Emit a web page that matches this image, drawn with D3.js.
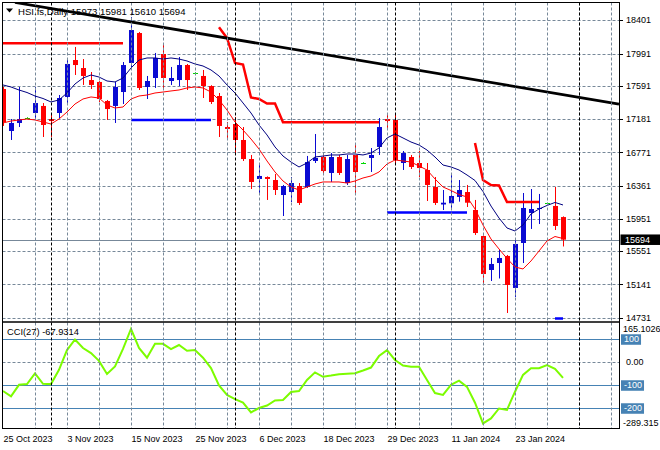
<!DOCTYPE html>
<html><head><meta charset="utf-8">
<script src="https://cdn.jsdelivr.net/npm/d3@7"></script>
<style>
body{margin:0;background:#fff}
svg{display:block}
text{font-family:"Liberation Sans",Arial,sans-serif;font-size:9px;fill:#000}
</style>
</head><body>
<svg id="c" width="660" height="450"></svg>
<script>
// ---------------- DATA ----------------
const titleText = "HSI.fs,Daily 15973 15981 15610 15694";
const opens  = [17553,17035,17134,17195,17257,17344,17183,17257,17455,17911,17812,17664,17640,17405,17344,17516,17874,18244,17578,17689,17985,17652,17664,17849,17751,17714,17590,17467,17084,17121,16924,16689,16443,16467,16430,16245,16282,16356,16344,16665,16714,16517,16714,16393,16739,16640,16702,16838,17183,17171,16640,16714,16640,16554,16344,16128,16143,16221,16282,16060,15739,15320,15406,15493,15098,15653,16023,16072,16143,16110,15973];
const highs  = [17578,17183,17578,17205,17578,17380,17257,17479,17911,18072,17923,17763,17650,17418,17640,17886,18442,18257,17714,17998,18109,17825,17948,17862,17761,17788,17600,17504,17146,17208,17084,16739,16640,16475,16504,16369,16467,16393,16727,16998,16751,16763,16739,16739,16875,16650,16825,17195,17232,17257,16788,16739,16788,16640,16467,16307,16492,16430,16369,16184,15745,15468,15567,15505,15690,16270,16319,16258,16150,16344,15981];
const lows   = [17097,16924,17084,17185,17195,16961,16961,17195,17380,17726,17603,17553,17393,17171,17134,17368,17800,17541,17430,17566,17566,17603,17590,17541,17741,17442,17368,16961,16924,16739,16665,16319,16270,16184,16245,15986,16159,16122,16332,16640,16492,16406,16492,16369,16270,16630,16529,16739,17047,16640,16554,16566,16467,16171,16122,16060,16085,16163,16097,15752,15159,15184,15215,14789,14987,15406,15826,15887,16135,15813,15610];
const closes = [17146,17134,17183,17195,17380,17109,17158,17442,17862,17849,17714,17603,17430,17306,17578,17849,18281,17566,17652,17936,17689,17689,17849,17664,17751,17590,17393,17097,17060,16924,16689,16406,16480,16443,16307,16356,16393,16147,16652,16702,16541,16714,16517,16689,16529,16640,16739,17084,17158,16677,16763,16591,16578,16369,16147,16150,16233,16307,16150,15776,15270,15394,15468,15135,15641,16085,16072,16085,16143,15863,15694];
// navy moving average
const maNavy = [17603,17578,17541,17510,17467,17436,17393,17418,17504,17615,17689,17726,17701,17652,17640,17689,17812,17911,17936,17936,17923,17936,17923,17899,17862,17837,17788,17714,17603,17504,17381,17257,17109,16986,16838,16726,16652,16591,16640,16714,16726,16739,16739,16751,16751,16739,16763,16825,16949,16998,16949,16899,16862,16800,16714,16615,16591,16554,16492,16424,16288,16109,15961,15838,15801,15875,16011,16072,16116,16153,16122];
// red moving average
const maRed = [17134,17158,17171,17183,17171,17146,17121,17183,17269,17368,17430,17455,17442,17356,17319,17331,17430,17467,17479,17504,17516,17529,17541,17566,17578,17566,17516,17418,17294,17146,17047,16936,16813,16665,16529,16418,16344,16307,16344,16381,16406,16406,16406,16393,16418,16455,16480,16529,16628,16677,16665,16652,16603,16554,16443,16344,16301,16251,16221,16073,15875,15702,15579,15462,15357,15332,15431,15554,15678,15733,15708];
// stepped resistance (red) and support (blue) levels, null = no value
const resistance = [18117,18117,18117,18117,18117,18117,18117,18117,18117,18117,18117,18117,18117,18117,18117,18117,
  null,null,null,null,null,null,null,null,null,null,null,
  18315,18183,17874,17856,17448,17430,17374,17374,17142,17142,17142,17142,17142,17142,17142,17142,17142,17142,17142,17142,17142,
  null,null,null,null,null,null,null,null,null,null,null,
  16887,16430,16369,16362,16159,16159,16159,16159,16159,
  null,null,null];
const support = [null,null,null,null,null,null,null,null,null,null,null,null,null,null,null,null,
  17171,17171,17171,17171,17171,17171,17171,17171,17171,17171,17171,
  null,null,null,null,null,null,null,null,null,null,null,null,null,null,null,null,null,null,null,null,null,
  16029,16029,16029,16029,16029,16029,16029,16029,16029,16029,16029,
  null,null,null,null,null,null,null,null,null,null,
  14721,14721];
const cciValues = [-125,-148,-98,-95,-48,-94,-95,-33,53,99,62,40,6,-51,-18,58,145,62,20,80,80,57,75,50,53,20,-25,-101,-142,-160,-175,-218,-199,-188,-166,-164,-129,-125,-77,-44,-63,-58,-52,-50,-48,-36,-23,27,53,10,-14,-19,-19,-77,-134,-142,-98,-80,-107,-176,-266,-244,-201,-207,-128,-55,-26,-26,-12,-29,-67.93];
const cciLabel = "CCI(27) -67.9314";
const trendBars = [1.5, 77];
const trendPrices = [18621, 17368];
const priceTicks = [18401,17991,17591,17181,16771,16361,15951,15551,15141,14731];
const lastPrice = 15694;
const cciMax = 165.1026, cciMin = -289.315;
const cciLevels = [100, -100, -200];
const cciLevelLabels = ["100", "-100", "-200"];
const dateBars = [0,8,16,24,32,40,48,56,64];
const dateLabels = ["25 Oct 2023","3 Nov 2023","15 Nov 2023","25 Nov 2023","6 Dec 2023","18 Dec 2023","29 Dec 2023","11 Jan 2024","23 Jan 2024"];
const gridBars = [4,8,12,16,20,24,28,32,36,40,44,48,52,56,60,64,68,72,76];
const separatorBars = [6,29,49,72];

// ---------------- LAYOUT ----------------
const plotL = 2.5, plotR = 619.5, mainT = 2.5, mainB = 322, cciT = 322, cciB = 428.5;
const x = d3.scaleLinear().domain([0, 77]).range([3, 619]);
const y = d3.scaleLinear().domain([14731, 18401]).range([317.7, 20.3]);
const yc = d3.scaleLinear().domain([cciMin, cciMax]).range([428.8, 324.3]);
const BULL = "#0a0ad2", BEAR = "#ff0000", DOJI = "#00d800", GRID = "#778899";

const svg = d3.select("#c");
const defs = svg.append("defs");
defs.append("clipPath").attr("id","cm").append("rect")
  .attr("x",plotL).attr("y",mainT).attr("width",plotR-plotL).attr("height",mainB-mainT);
defs.append("clipPath").attr("id","cc").append("rect")
  .attr("x",plotL).attr("y",cciT).attr("width",plotR-plotL).attr("height",cciB-cciT);

const gMain = svg.append("g").attr("clip-path","url(#cm)");
const gCci = svg.append("g").attr("clip-path","url(#cc)");

// horizontal grid (main)
gMain.selectAll("line.hg").data(priceTicks).join("line")
  .attr("x1",plotL).attr("x2",plotR)
  .attr("y1",d=>Math.round(y(d))+0.5).attr("y2",d=>Math.round(y(d))+0.5)
  .attr("stroke",GRID).attr("stroke-dasharray","3,2");
// vertical grid
svg.selectAll("line.vg").data(gridBars).join("line")
  .attr("x1",d=>x(d)+0.5).attr("x2",d=>x(d)+0.5)
  .attr("y1",mainT).attr("y2",cciB)
  .attr("stroke",GRID).attr("stroke-dasharray","3,2");
// CCI zero grid
gCci.append("line").attr("x1",plotL).attr("x2",plotR)
  .attr("y1",Math.round(yc(0))+0.5).attr("y2",Math.round(yc(0))+0.5)
  .attr("stroke",GRID).attr("stroke-dasharray","3,2");
// CCI level lines
gCci.selectAll("line.lv").data(cciLevels).join("line")
  .attr("x1",plotL).attr("x2",plotR)
  .attr("y1",d=>Math.round(yc(d))+0.5).attr("y2",d=>Math.round(yc(d))+0.5)
  .attr("stroke","#4682b4");
// period separators
svg.selectAll("line.sep").data(separatorBars).join("line")
  .attr("x1",d=>x(d)+0.5).attr("x2",d=>x(d)+0.5)
  .attr("y1",mainT).attr("y2",cciB)
  .attr("stroke","#000").attr("stroke-dasharray","3,2");
// last price line
gMain.append("line").attr("x1",plotL).attr("x2",plotR)
  .attr("y1",Math.round(y(lastPrice))+0.5).attr("y2",Math.round(y(lastPrice))+0.5)
  .attr("stroke",GRID);

// candles
const bars = d3.range(opens.length).map(i=>({i,o:opens[i],h:highs[i],l:lows[i],c:closes[i]}));
const col = d => d.c > d.o ? BULL : (d.c < d.o ? BEAR : DOJI);
const gc = gMain.append("g");
gc.selectAll("line.wick").data(bars).join("line")
  .attr("x1",d=>x(d.i)+0.5).attr("x2",d=>x(d.i)+0.5)
  .attr("y1",d=>y(d.h)).attr("y2",d=>y(d.l))
  .attr("stroke",col).attr("stroke-width",1);
gc.selectAll("rect.body").data(bars.filter(d=>d.o!==d.c)).join("rect")
  .attr("x",d=>x(d.i)-2).attr("width",5)
  .attr("y",d=>Math.min(y(d.o),y(d.c)))
  .attr("height",d=>Math.max(1,Math.abs(y(d.o)-y(d.c))))
  .attr("fill",col);
gc.selectAll("line.doji").data(bars.filter(d=>d.o===d.c)).join("line")
  .attr("x1",d=>x(d.i)-2).attr("x2",d=>x(d.i)+3)
  .attr("y1",d=>Math.round(y(d.o))+0.5).attr("y2",d=>Math.round(y(d.o))+0.5)
  .attr("stroke",DOJI);

// moving averages
const lineP = d3.line().defined(d=>d!=null).x((d,i)=>x(i)).y(d=>y(d));
gMain.append("path").attr("d",lineP(maNavy)).attr("fill","none").attr("stroke","#000080").attr("stroke-width",1);
gMain.append("path").attr("d",lineP(maRed)).attr("fill","none").attr("stroke","#ff0000").attr("stroke-width",1);
// resistance / support
gMain.append("path").attr("d",lineP(resistance)).attr("fill","none").attr("stroke","#ff0000").attr("stroke-width",2.5);
gMain.append("path").attr("d",lineP(support)).attr("fill","none").attr("stroke","#0000ff").attr("stroke-width",2.5);
// trend line
gMain.append("line")
  .attr("x1",x(trendBars[0])).attr("y1",y(trendPrices[0]))
  .attr("x2",x(trendBars[1])).attr("y2",y(trendPrices[1]))
  .attr("stroke","#000").attr("stroke-width",2.8);

// CCI line
const lineC = d3.line().x((d,i)=>x(i)).y(d=>yc(d));
gCci.append("path").attr("d",lineC(cciValues)).attr("fill","none").attr("stroke","#7cfc00").attr("stroke-width",2);

// frames
svg.append("rect").attr("x",plotL).attr("y",mainT).attr("width",plotR-plotL).attr("height",mainB-mainT)
  .attr("fill","none").attr("stroke","#000");
svg.append("rect").attr("x",plotL).attr("y",cciT).attr("width",plotR-plotL).attr("height",cciB-cciT)
  .attr("fill","none").attr("stroke","#000");

// price axis
svg.selectAll("line.pt").data(priceTicks).join("line")
  .attr("x1",plotR).attr("x2",plotR+3.5)
  .attr("y1",d=>Math.round(y(d))+0.5).attr("y2",d=>Math.round(y(d))+0.5).attr("stroke","#000");
svg.selectAll("text.pl").data(priceTicks).join("text")
  .attr("x",626).attr("y",d=>y(d)).attr("dy","0.35em").text(d=>d);
// last price box
const ly = y(lastPrice);
svg.append("rect").attr("x",620.5).attr("y",ly-5.2).attr("width",40).attr("height",10.5).attr("fill","#000");
svg.append("text").attr("x",625).attr("y",ly).attr("dy","0.35em").style("fill","#fff").text(lastPrice);

// CCI axis labels
svg.append("text").attr("x",623).attr("y",yc(cciMax)+5).attr("dy","0.35em").text(cciMax.toFixed(4));
svg.append("text").attr("x",623).attr("y",yc(cciMin)-6).attr("dy","0.35em").text(cciMin.toFixed(3));
svg.append("text").attr("x",626).attr("y",yc(0)).attr("dy","0.35em").text("0.00");
cciLevels.forEach((lv,k)=>{
  const t = svg.append("text").attr("x",624).attr("y",yc(lv)).attr("dy","0.35em").style("fill","#fff").text(cciLevelLabels[k]);
  const bb = t.node().getBBox();
  svg.insert("rect","text:last-child").attr("x",621).attr("y",yc(lv)-5).attr("width",bb.width+5).attr("height",10.5).attr("fill","#4682b4");
  t.raise();
});

// date labels
svg.selectAll("text.dl").data(dateBars).join("text")
  .attr("x",d=>x(d)+0.5).attr("y",442).text((d,k)=>dateLabels[k]);

// titles
svg.append("path").attr("d","M6,8.5 L13,8.5 L9.5,12.5 Z").attr("fill","#000");
svg.append("text").attr("x",18).attr("y",14.5).style("font-size","9.6px").text(titleText);
svg.append("text").attr("x",7).attr("y",334.5).style("font-size","9.3px").text(cciLabel);
</script>
</body></html>
